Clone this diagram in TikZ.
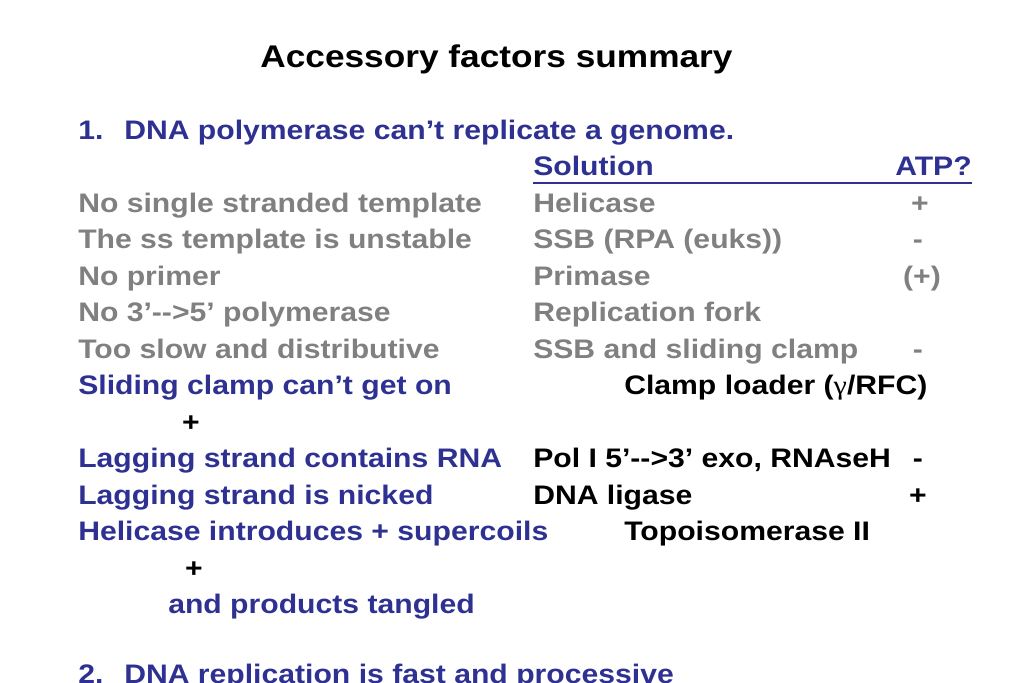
\documentclass[tikz,border=0pt]{standalone}
\usepackage{fontspec}
\setmainfont{Liberation Sans}[FakeStretch=1.125]
\newfontfamily\greekfont{Liberation Serif}[FakeStretch=1.125]
\usepackage{xcolor}
\usepackage{tikz}
\definecolor{slideblue}{RGB}{46, 49, 146}
\definecolor{slidegrey}{RGB}{128, 128, 128}

\begin{document}
\begin{tikzpicture}[x=0.75pt, y=-0.75pt,
    txt/.style={inner sep=0, anchor=base west, font=\fontsize{20.1}{24}\selectfont\bfseries},
    issue/.style={txt, text=slideblue},
    solved/.style={txt, text=slidegrey},
    answer/.style={txt, text=black},
    sign/.style={anchor=base}]
\useasboundingbox (0,0) rectangle (1023,682);
\clip (0,0) rectangle (1023,682);
\node[answer, anchor=base, font=\fontsize{23.5}{28}\selectfont\bfseries] (title) at (496.5,67) {Accessory factors summary};

\node[issue] (n1) at (78,139) {1.};
\node[issue] (q1) at (124,139) {DNA polymerase can’t replicate a genome.};
\node[issue] (sol) at (533,175.5) {Solution};
\node[issue, anchor=base east] (atp) at (972,175.5) {ATP?};
\draw[slideblue, line width=1.4] ([yshift=-5.5]sol.base west) -- ([yshift=-5.5]atp.base east);

\node[solved] (p1) at (78,212) {No single stranded template};
\node[solved] (s1) at (533,212) {Helicase};
\node[solved, sign] (a1) at (920,212) {+};
\node[solved] (p2) at (78,248.5) {The ss template is unstable};
\node[solved] (s2) at (533,248.5) {SSB (RPA (euks))};
\node[solved, sign] (a2) at (918,248.5) {-};
\node[solved] (p3) at (78,285) {No primer};
\node[solved] (s3) at (533,285) {Primase};
\node[solved, sign] (a3) at (922,285) {(+)};
\node[solved] (p4) at (78,321.5) {No 3’-{}-{}>5’ polymerase};
\node[solved] (s4) at (533,321.5) {Replication fork};
\node[solved] (p5) at (78,358) {Too slow and distributive};
\node[solved] (s5) at (533,358) {SSB and sliding clamp};
\node[solved, sign] (a5) at (918,358) {-};

\node[issue] (p6) at (78,394.5) {Sliding clamp can’t get on};
\node[answer] (s6) at (624,394.5) {Clamp loader ({\greekfont\mdseries γ}/RFC)};
\node[answer, sign] (a6) at (191,431) {+};
\node[issue] (p7) at (78,467.5) {Lagging strand contains RNA};
\node[answer] (s7) at (533,467.5) {Pol I 5’-{}-{}>3’ exo, RNAseH};
\node[answer, sign] (a7) at (918,467.5) {-};
\node[issue] (p8) at (78,504) {Lagging strand is nicked};
\node[answer] (s8) at (533,504) {DNA ligase};
\node[answer, sign] (a8) at (918,504) {+};
\node[issue] (p9) at (78,540.5) {Helicase introduces + supercoils};
\node[answer] (s9) at (624,540.5) {Topoisomerase II};
\node[answer, sign] (a9) at (194,577) {+};
\node[issue] (p9b) at (168,613.5) {and products tangled};

\node[issue] (n2) at (78,683) {2.};
\node[issue] (q2) at (124,683) {DNA replication is fast and processive};
\end{tikzpicture}
\end{document}
